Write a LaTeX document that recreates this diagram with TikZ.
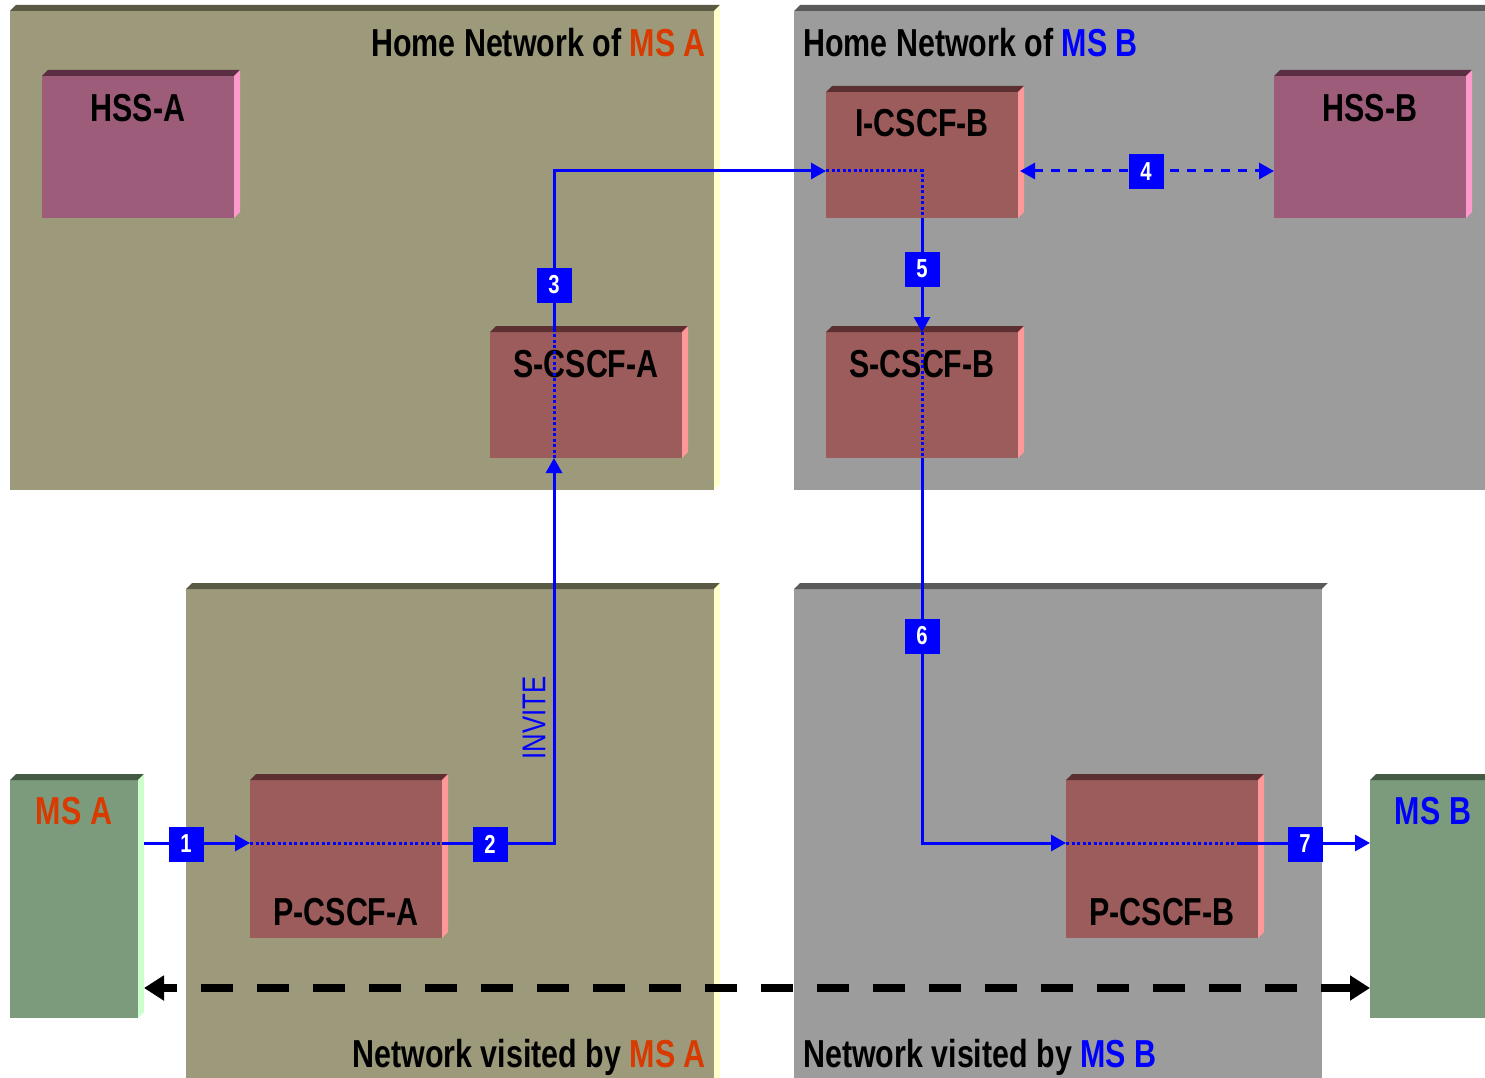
\documentclass[tikz,border=0pt]{standalone}
\usepackage{fontspec}
\usetikzlibrary{arrows.meta,calc}
\newfontfamily\diafont[FakeStretch=0.78]{Liberation Sans}

% colours
\definecolor{olivefc}{HTML}{9C9A7A}
\definecolor{olivetp}{HTML}{5A5A44}
\definecolor{olivesd}{HTML}{FFFFCC}
\definecolor{grayfc}{HTML}{9C9C9C}
\definecolor{graytp}{HTML}{5A5A5A}
\definecolor{graysd}{HTML}{FFFFFF}
\definecolor{hssfc}{HTML}{9C5C7A}
\definecolor{hsstp}{HTML}{5C2E44}
\definecolor{hsssd}{HTML}{FF99CC}
\definecolor{cscffc}{HTML}{9C5C5C}
\definecolor{cscftp}{HTML}{5C3030}
\definecolor{cscfsd}{HTML}{FF9999}
\definecolor{msfc}{HTML}{7C9A7C}
\definecolor{mstp}{HTML}{445A44}
\definecolor{mssd}{HTML}{CCFFCC}
\definecolor{msaorange}{HTML}{D83A00}
\definecolor{flowblue}{HTML}{0000FF}

% top and right bevel of a raised box
\newcommand\boxbevel[3]{%
  \fill[#2] (#1.north west) -- ++(6,-6) -- ($(#1.north east)+(6,-6)$) -- (#1.north east) -- cycle;
  \fill[#3] (#1.north east) -- ++(6,-6) -- ($(#1.south east)+(6,-6)$) -- (#1.south east) -- cycle;}

\newcommand\bigfont{\diafont\bfseries\fontsize{39}{40}\selectfont}

\tikzset{
  face/.style={fill=#1, draw=none, inner sep=0pt, outer sep=0pt, anchor=north west},
  title/.style={inner sep=0pt, font=\bigfont, text=black},
  numbox/.style={fill=flowblue, text=white, minimum size=35pt, inner sep=0pt,
    font=\diafont\bfseries\fontsize{26}{26}\selectfont},
  flow/.style={draw=flowblue, line width=3pt},
  inbox/.style={draw=flowblue, line width=3pt, dash pattern=on 3pt off 2.5pt},
  tip/.style={-{Triangle[length=15pt,width=16pt]}},
}

\begin{document}
\begin{tikzpicture}[x=1pt,y=-1pt]
\useasboundingbox (0,0) rectangle (1485,1078);
\clip (0,0) rectangle (1485,1078);

% network regions
\node[face=olivefc, minimum width=704pt, minimum height=479pt] (homeA) at (10,11) {};
\boxbevel{homeA}{olivetp}{olivesd}
\node[face=grayfc, minimum width=700pt, minimum height=479pt] (homeB) at (794,11) {};
\boxbevel{homeB}{graytp}{graysd}
\node[face=olivefc, minimum width=528pt, minimum height=495pt] (visA) at (186,589) {};
\boxbevel{visA}{olivetp}{olivesd}
\node[face=grayfc, minimum width=528pt, minimum height=495pt] (visB) at (794,589) {};
\boxbevel{visB}{graytp}{graysd}

\node[title, anchor=base east] (homeAt) at (706,57) {Home Network of \textcolor{msaorange}{MS A}};
\node[title, anchor=base west] (homeBt) at (803,57) {Home Network of \textcolor{flowblue}{MS B}};
\node[title, anchor=base east] (visAt) at (706,1067) {Network visited by \textcolor{msaorange}{MS A}};
\node[title, anchor=base west] (visBt) at (803,1067) {Network visited by \textcolor{flowblue}{MS B}};

% network elements
\node[face=hssfc, minimum width=192pt, minimum height=142pt] (hssA) at (42,76) {};
\boxbevel{hssA}{hsstp}{hsssd}
\node[face=hssfc, minimum width=192pt, minimum height=142pt] (hssB) at (1274,76) {};
\boxbevel{hssB}{hsstp}{hsssd}
\node[face=cscffc, minimum width=192pt, minimum height=126pt] (iB) at (826,92) {};
\boxbevel{iB}{cscftp}{cscfsd}
\node[face=cscffc, minimum width=192pt, minimum height=126pt] (sA) at (490,332) {};
\boxbevel{sA}{cscftp}{cscfsd}
\node[face=cscffc, minimum width=192pt, minimum height=126pt] (sB) at (826,332) {};
\boxbevel{sB}{cscftp}{cscfsd}
\node[face=cscffc, minimum width=192pt, minimum height=158pt] (pA) at (250,780) {};
\boxbevel{pA}{cscftp}{cscfsd}
\node[face=cscffc, minimum width=192pt, minimum height=158pt] (pB) at (1066,780) {};
\boxbevel{pB}{cscftp}{cscfsd}
\node[face=msfc, minimum width=128pt, minimum height=238pt] (msA) at (10,780) {};
\boxbevel{msA}{mstp}{mssd}
\node[face=msfc, minimum width=130pt, minimum height=238pt] (msB) at (1370,780) {};
\boxbevel{msB}{mstp}{mssd}

\node[title, anchor=base] (hssAt) at ($(hssA.north)+(0,46)$) {HSS-A};
\node[title, anchor=base] (hssBt) at ($(hssB.north)+(0,46)$) {HSS-B};
\node[title, anchor=base] (iBt) at ($(iB.north)+(0,45)$) {I-CSCF-B};
\node[title, anchor=base] (sAt) at ($(sA.north)+(0,45)$) {S-CSCF-A};
\node[title, anchor=base] (sBt) at ($(sB.north)+(0,45)$) {S-CSCF-B};
\node[title, anchor=base] (pAt) at ($(pA.south)+(0,-13)$) {P-CSCF-A};
\node[title, anchor=base] (pBt) at ($(pB.south)+(0,-13)$) {P-CSCF-B};
\node[title, anchor=base, text=msaorange] (msAt) at (74,824) {MS A};
\node[title, anchor=base, text=flowblue] (msBt) at (1433,824) {MS B};

% routing rows and columns of the signalling path
\coordinate (rowTop) at (0,171);
\coordinate (rowA) at (0,843);
\coordinate (rowD) at (0,988);
\coordinate (colA) at (554,0);
\coordinate (colB) at (922,0);
\coordinate (msAedge) at ([xshift=6pt]msA.east);
\coordinate (iBedge) at ([xshift=2pt]iB.east);
\coordinate (pBout) at ([xshift=-18pt]pB.east);

% end-to-end media path
\draw[line width=8pt, dash pattern=on 32pt off 24pt, dash phase=18pt,
  {Triangle[length=20pt,width=24pt]}-{Triangle[length=20pt,width=24pt]}]
  (msAedge |- rowD) -- (msB.west |- rowD);

% INVITE signalling path
\draw[flow, tip] (msAedge |- rowA) -- (pA.west |- rowA);
\draw[inbox] (pA.west |- rowA) -- (pA.east |- rowA);
\draw[flow, tip] (pA.east |- rowA) -- (colA |- rowA) -- (colA |- sA.south);
\draw[inbox] (colA |- sA.south) -- (colA |- sA.north);
\draw[flow, tip] (colA |- sA.north) -- (colA |- rowTop) -- (iB.west |- rowTop);
\draw[inbox] (iB.west |- rowTop) -- (colB |- rowTop) -- (colB |- iB.south);
\draw[flow, tip] (colB |- iB.south) -- (colB |- sB.north);
\draw[inbox] (colB |- sB.north) -- (colB |- sB.south);
\draw[flow, tip] (colB |- sB.south) -- (colB |- rowA) -- (pB.west |- rowA);
\draw[inbox] (pB.west |- rowA) -- (pBout |- rowA);
\draw[flow, tip] (pBout |- rowA) -- (msB.west |- rowA);
\draw[flow, dash pattern=on 9pt off 8pt,
  {Triangle[length=15pt,width=16pt]}-{Triangle[length=15pt,width=16pt]}]
  (iBedge |- rowTop) -- (hssB.west |- rowTop);

\node[rotate=90, text=flowblue, inner sep=0pt,
  font=\diafont\fontsize{33}{33}\selectfont] (invite) at (534,718) {INVITE};

% step numbers
\node[numbox] (n1) at (186,844) {1};
\node[numbox] (n2) at (490,844) {2};
\node[numbox] (n3) at (554,285) {3};
\node[numbox] (n4) at (1146,172) {4};
\node[numbox] (n5) at (922,269) {5};
\node[numbox] (n6) at (922,636) {6};
\node[numbox] (n7) at (1305,844) {7};
\end{tikzpicture}
\end{document}
